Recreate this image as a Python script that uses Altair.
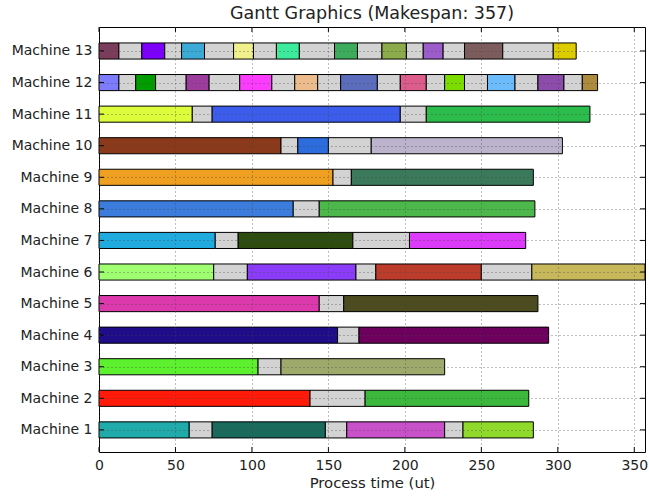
import altair as alt
import pandas as pd

IDLE = "#d3d3d3"

machines = list(range(1, 14))

# End time of each consecutive segment on a machine (starts at 0).
segment_ends = {
    1: [59, 74, 148, 162, 226, 238, 284],
    2: [138, 174, 281],
    3: [104, 119, 226],
    4: [156, 170, 294],
    5: [144, 160, 287],
    6: [75, 97, 168, 181, 250, 283, 357],
    7: [76, 91, 166, 203, 279],
    8: [127, 144, 285],
    9: [153, 165, 284],
    10: [119, 130, 150, 178, 303],
    11: [61, 74, 197, 214, 321],
    12: [13, 24, 37, 57, 72, 92, 113, 128, 143, 158, 182, 197, 214, 226,
         239, 254, 272, 287, 304, 316, 326],
    13: [13, 28, 43, 54, 69, 88, 101, 116, 131, 154, 169, 185, 201, 212,
         225, 239, 264, 297, 312],
}

# Fill of each segment; IDLE marks waiting time between operations.
segment_colors = {
    1: ["#20aaaa", IDLE, "#1a6b5c", IDLE, "#c850c8", IDLE, "#8fda2a"],
    2: ["#ff1a0a", IDLE, "#3cb83c"],
    3: ["#5cf02e", IDLE, "#9eaa6c"],
    4: ["#1e0c88", IDLE, "#6c005c"],
    5: ["#dc3aac", IDLE, "#4c4c20"],
    6: ["#a0ff70", IDLE, "#8a3cf8", IDLE, "#bc3c2c", IDLE, "#c8b85c"],
    7: ["#20aade", IDLE, "#2c4c10", IDLE, "#dc3cfa"],
    8: ["#3c7cdc", IDLE, "#4cb84c"],
    9: ["#f0a020", IDLE, "#3a7a5a"],
    10: ["#8a3a1a", IDLE, "#2c6cdc", IDLE, "#bcb4cc"],
    11: ["#dcfc3c", IDLE, "#3c5cec", IDLE, "#2cbc4c"],
    12: ["#7c7cfc", IDLE, "#009c00", IDLE, "#9c3c9c", IDLE, "#fc3cfc", IDLE,
         "#ecbc8c", IDLE, "#5c6cbc", IDLE, "#dc5c8c", IDLE, "#7cdc00", IDLE,
         "#6cbcfc", IDLE, "#8c4cac", IDLE, "#ac8c3c"],
    13: ["#7c3c5c", IDLE, "#7c00fc", IDLE, "#3caad6", IDLE, "#f0f08c", IDLE,
         "#3cec9c", IDLE, "#3cac5c", IDLE, "#8cac4c", IDLE, "#9c5ccc", IDLE,
         "#7c5c5c", IDLE, "#dccc00"],
}

makespan = 357
x_ticks = [0, 50, 100, 150, 200, 250, 300, 350]

rows = []
for m in machines:
    start = 0
    for end, col in zip(segment_ends[m], segment_colors[m]):
        rows.append({"machine": m, "start": start, "end": end, "color": col,
                     "lo": m - 0.255, "hi": m + 0.255})
        start = end
segments = pd.DataFrame(rows)

W, H = 546, 425
x_scale = alt.Scale(domain=[0, makespan], nice=False, zero=False)
y_scale = alt.Scale(domain=[0.3, 13.76], nice=False, zero=False)

x_axis = alt.Axis(values=x_ticks, title="Process time (ut)", grid=True,
                  gridDash=[1, 3], gridColor="#444", gridOpacity=0.7,
                  ticks=False, tickSize=0, domain=False, labelPadding=6,
                  titlePadding=3, titleFontSize=14.8, zindex=1,
                  labelFlush=False, labelOverlap=False)
y_axis = alt.Axis(values=machines, title=None, grid=True,
                  gridDash=[1, 3], gridColor="#444", gridOpacity=0.7,
                  labelExpr="'Machine ' + datum.value", ticks=False,
                  tickSize=0, domain=False, labelPadding=7, zindex=1,
                  labelOverlap=False, labelFlush=False, labelBound=False)

bars = alt.Chart(segments).mark_rect(stroke="black", strokeWidth=1).encode(
    x=alt.X("start:Q", scale=x_scale, axis=x_axis),
    x2="end:Q",
    y=alt.Y("lo:Q", scale=y_scale, axis=y_axis),
    y2="hi:Q",
    color=alt.Color("color:N", scale=None),
)

xt = pd.DataFrame({"x": x_ticks})
yt = pd.DataFrame({"m": machines})

# Inward-pointing tick marks on all four sides of the frame
x_ticks_bottom = alt.Chart(xt).mark_rule(color="black").encode(
    x=alt.X("x:Q", scale=x_scale, axis=x_axis),
    y=alt.value(H), y2=alt.value(H - 5))
x_ticks_top = alt.Chart(xt).mark_rule(color="black").encode(
    x=alt.X("x:Q", scale=x_scale, axis=x_axis),
    y=alt.value(0), y2=alt.value(5))
y_ticks_left = alt.Chart(yt).mark_rule(color="black").encode(
    y=alt.Y("m:Q", scale=y_scale, axis=y_axis),
    x=alt.value(0), x2=alt.value(5))
y_ticks_right = alt.Chart(yt).mark_rule(color="black").encode(
    y=alt.Y("m:Q", scale=y_scale, axis=y_axis),
    x=alt.value(W - 5), x2=alt.value(W))

chart = alt.layer(
    bars, x_ticks_bottom, x_ticks_top, y_ticks_left, y_ticks_right
).properties(
    width=W, height=H,
    title=alt.TitleParams("Gantt Graphics (Makespan: 357)", fontSize=17.5,
                          font="DejaVu Sans", fontWeight="normal",
                          color="#222", offset=4),
    autosize=alt.AutoSizeParams(type="none"),
    padding={"left": 99, "top": 27, "right": 3, "bottom": 45},
).configure_view(
    stroke="black", strokeWidth=1
).configure_axis(
    labelFont="DejaVu Sans", labelFontSize=14, labelColor="#222",
    titleFont="DejaVu Sans", titleFontWeight="normal", titleColor="#222",
    labelOverlap=False,
)

chart.save("out.html", embed_options={"renderer": "svg", "actions": False})
